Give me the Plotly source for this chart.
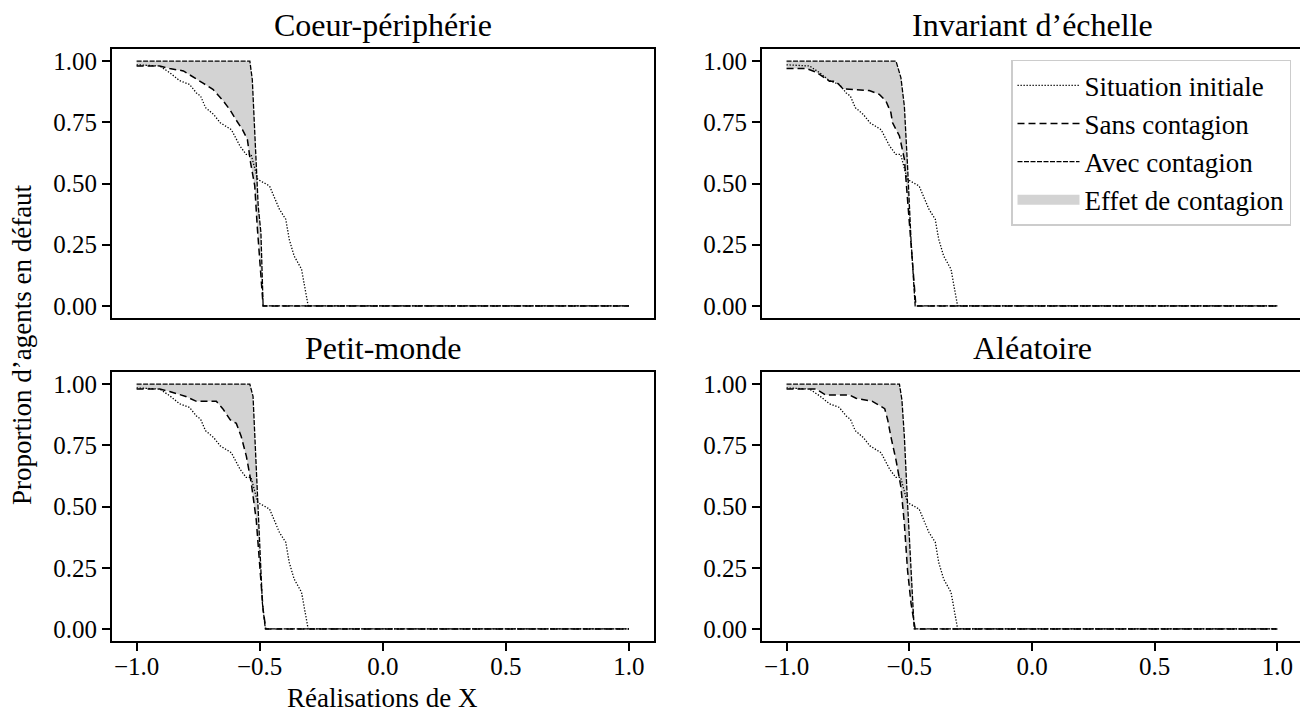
import plotly.graph_objects as go

# ── Data ──────────────────────────────────────────────────────────
# Situation initiale (identique dans les quatre panneaux)
x_init = [-1.0, -0.906, -0.866, -0.825, -0.785, -0.757, -0.74, -0.72, -0.687, -0.66,
          -0.615, -0.58, -0.555, -0.535, -0.508, -0.46, -0.42, -0.394, -0.38, -0.36,
          -0.33, -0.303, 1.0]
y_init = [0.985, 0.98, 0.953, 0.92, 0.905, 0.87, 0.857, 0.81, 0.782, 0.748,
          0.72, 0.653, 0.619, 0.619, 0.517, 0.49, 0.395, 0.354, 0.272, 0.204,
          0.15, 0.0, 0.0]

# Coeur-périphérie
cp_x_sans = [-1.0, -0.906, -0.866, -0.81, -0.73, -0.69, -0.65, -0.62, -0.596, -0.57,
             -0.55, -0.537, -0.52, -0.51, -0.486, 1.0]
cp_y_sans = [0.98, 0.98, 0.97, 0.96, 0.91, 0.885, 0.84, 0.80, 0.76, 0.72,
             0.68, 0.585, 0.49, 0.326, 0.0, 0.0]
cp_x_avec = [-1.0, -0.54, -0.53, -0.52, -0.506, -0.495, -0.486, 1.0]
cp_y_avec = [1.0, 1.0, 0.925, 0.68, 0.408, 0.30, 0.0, 0.0]

# Invariant d'échelle
ie_x_sans = [-1.0, -0.92, -0.88, -0.825, -0.80, -0.77, -0.663, -0.622, -0.595, -0.575,
             -0.568, -0.54, -0.52, -0.507, -0.493, -0.473, 1.0]
ie_y_sans = [0.97, 0.97, 0.955, 0.918, 0.918, 0.887, 0.88, 0.864, 0.837, 0.79,
             0.748, 0.694, 0.6, 0.435, 0.272, 0.0, 0.0]
ie_x_avec = [-1.0, -0.554, -0.534, -0.52, -0.507, -0.493, -0.476, 1.0]
ie_y_avec = [1.0, 1.0, 0.932, 0.816, 0.571, 0.272, 0.0, 0.0]

# Petit-monde
pm_x_sans = [-1.0, -0.906, -0.866, -0.8, -0.757, -0.676, -0.65, -0.62, -0.595, -0.575,
             -0.554, -0.534, -0.514, -0.5, -0.486, -0.475, 1.0]
pm_y_sans = [0.98, 0.98, 0.97, 0.95, 0.93, 0.93, 0.90, 0.855, 0.84, 0.786,
             0.705, 0.595, 0.446, 0.27, 0.078, 0.0, 0.0]
pm_x_avec = [-1.0, -0.54, -0.527, -0.514, -0.5, -0.489, -0.477, 1.0]
pm_y_avec = [1.0, 1.0, 0.95, 0.65, 0.377, 0.106, 0.0, 0.0]

# Aléatoire
al_x_sans = [-1.0, -0.88, -0.84, -0.744, -0.717, -0.65, -0.6, -0.588, -0.575, -0.554,
             -0.534, -0.52, -0.507, -0.493, -0.476, 1.0]
al_y_sans = [0.98, 0.98, 0.956, 0.956, 0.943, 0.93, 0.90, 0.855, 0.786, 0.69,
             0.58, 0.43, 0.24, 0.106, 0.0, 0.0]
al_x_avec = [-1.0, -0.54, -0.53, -0.52, -0.507, -0.493, -0.48, 1.0]
al_y_avec = [1.0, 1.0, 0.936, 0.786, 0.514, 0.24, 0.0, 0.0]

titles = ["Coeur-périphérie", "Invariant d’échelle", "Petit-monde", "Aléatoire"]
x_ticks = [-1.0, -0.5, 0.0, 0.5, 1.0]
y_ticks = [0.0, 0.25, 0.5, 0.75, 1.0]

panels = [
    (cp_x_sans, cp_y_sans, cp_x_avec, cp_y_avec),
    (ie_x_sans, ie_y_sans, ie_x_avec, ie_y_avec),
    (pm_x_sans, pm_y_sans, pm_x_avec, pm_y_avec),
    (al_x_sans, al_y_sans, al_x_avec, al_y_avec),
]

# ── Layout: the page puts the figure at an 8px offset ─────────────
W, H, OFF = 1300, 710, 8
FONT = "Liberation Serif"
FILL = "#d3d3d3"


def px(X):
    return (X - OFF) / W


def py(Y):
    return 1 - (Y - OFF) / H


col_dom = [[px(112), px(653.5)], [px(762), px(1302)]]
row_dom = [[py(318), py(48)], [py(642), py(372)]]

fig = go.Figure()

for i, (xs, ys, xa, ya) in enumerate(panels):
    ax = "" if i == 0 else str(i + 1)
    xref, yref = "x" + ax, "y" + ax
    first = i == 0

    # fill between "sans" and "avec"
    fig.add_trace(go.Scatter(x=xs, y=ys, mode="lines", line=dict(width=0),
                             showlegend=False, hoverinfo="skip",
                             xaxis=xref, yaxis=yref))
    fig.add_trace(go.Scatter(x=xa, y=ya, mode="lines", line=dict(width=0),
                             fill="tonexty", fillcolor=FILL, showlegend=False,
                             hoverinfo="skip", xaxis=xref, yaxis=yref))
    fig.add_trace(go.Scatter(x=x_init, y=y_init, mode="lines",
                             line=dict(color="black", width=1.3, dash="1.3px,1.7px"),
                             name="Situation initiale", legendrank=1, showlegend=first,
                             xaxis=xref, yaxis=yref))
    fig.add_trace(go.Scatter(x=xs, y=ys, mode="lines",
                             line=dict(color="black", width=1.5, dash="7px,4px"),
                             name="Sans contagion", legendrank=2, showlegend=first,
                             xaxis=xref, yaxis=yref))
    fig.add_trace(go.Scatter(x=xa, y=ya, mode="lines",
                             line=dict(color="black", width=1.3, dash="5px,1.5px"),
                             name="Avec contagion", legendrank=3, showlegend=first,
                             xaxis=xref, yaxis=yref))

# legend-only entry for the shaded area (wide grey box)
fig.add_trace(go.Scatter(x=[None], y=[None], mode="lines",
                         line=dict(color=FILL, width=18),
                         name="Effet de contagion", legendrank=4))

axis_common = dict(showgrid=False, zeroline=False, showline=True, linecolor="black",
                   linewidth=2, mirror=True, tickcolor="black", tickwidth=1.5,
                   ticklen=8, tickfont=dict(family=FONT, size=25, color="black"))

layout = {}
annotations = []
for i in range(4):
    r, c = divmod(i, 2)
    ax = "" if i == 0 else str(i + 1)
    bottom = r == 1
    layout["xaxis" + ax] = dict(axis_common, domain=col_dom[c], range=[-1.1, 1.1],
                                anchor="y" + ax, tickvals=x_ticks, tickformat=".1f",
                                ticks="outside" if bottom else "",
                                showticklabels=bottom, ticklabelstandoff=-6)
    layout["yaxis" + ax] = dict(axis_common, domain=row_dom[r], range=[-0.05, 1.05],
                                anchor="x" + ax, tickvals=y_ticks, tickformat=".2f",
                                ticks="outside")
    title_y = 24 if r == 0 else 348
    annotations.append(dict(text=titles[i], x=sum(col_dom[c]) / 2, y=py(title_y),
                            xref="paper", yref="paper", xanchor="center", yanchor="middle",
                            showarrow=False, font=dict(family=FONT, size=32, color="black")))

annotations.append(dict(text="Proportion d’agents en défaut", x=px(22), y=py(345),
                        xref="paper", yref="paper", textangle=-90, showarrow=False,
                        xanchor="center", yanchor="middle",
                        font=dict(family=FONT, size=27, color="black")))
annotations.append(dict(text="Réalisations de X", x=sum(col_dom[0]) / 2, y=py(699),
                        xref="paper", yref="paper", showarrow=False,
                        xanchor="center", yanchor="middle",
                        font=dict(family=FONT, size=27, color="black")))

fig.update_layout(
    width=W, height=H,
    paper_bgcolor="white", plot_bgcolor="white",
    margin=dict(l=0, r=0, t=0, b=0),
    annotations=annotations,
    legend=dict(x=px(1291), y=py(59), xanchor="right", yanchor="top",
                traceorder="normal",
                bordercolor="#cccccc", borderwidth=1.5, bgcolor="rgba(255,255,255,0.8)",
                itemwidth=62, tracegroupgap=0,
                font=dict(family=FONT, size=27, color="black")),
    **layout,
)

fig.write_html("out.html")
